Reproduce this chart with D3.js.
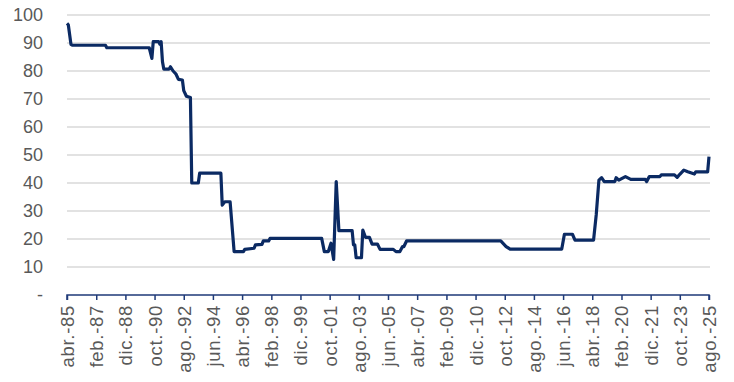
<!DOCTYPE html>
<html><head><meta charset="utf-8">
<script src="https://cdn.jsdelivr.net/npm/d3@7"></script>
<style>body{margin:0;background:#fff}svg{display:block}</style>
</head><body>
<svg id="c" width="734" height="382"></svg>
<script>
const dates = ["1985-04","1985-05","1985-07","1985-08","1987-09","1987-10","1990-06","1990-08","1990-09","1991-01","1991-02","1991-03","1991-04","1991-05","1991-09","1991-10","1991-12","1992-02","1992-04","1992-07","1992-08","1992-10","1993-01","1993-02","1993-07","1993-08","1994-12","1995-01","1995-03","1995-07","1995-10","1996-05","1996-06","1997-01","1997-02","1997-07","1997-08","1997-12","1998-01","2001-04","2001-06","2001-09","2001-11","2002-01","2002-03","2002-05","2003-03","2003-04","2003-05","2003-06","2003-10","2003-11","2004-01","2004-04","2004-06","2004-10","2004-12","2005-10","2005-12","2006-03","2006-05","2006-06","2006-08","2012-07","2012-11","2013-02","2016-05","2016-07","2017-01","2017-03","2018-05","2018-07","2018-09","2018-11","2019-01","2019-09","2019-10","2019-12","2020-05","2020-09","2021-08","2021-09","2021-11","2022-07","2022-08","2023-06","2023-08","2023-10","2024-01","2024-04","2024-09","2024-10","2025-07","2025-08"];
const values = [97,96.5,89.5,89.2,89.2,88.3,88.3,84.5,90.5,90.5,89.6,90.5,83.3,80.7,80.7,81.5,80,79,77,76.8,73,71,70.5,40,40,43.5,43.5,32.1,33.3,33.3,15.5,15.5,16.3,16.7,17.9,18.1,19.3,19.3,20.2,20.2,15.5,15.5,18.5,12.7,40.5,23,23,17.9,17.9,13.3,13.3,23.2,20.6,20.6,18.2,18.2,16.3,16.3,15.5,15.5,17.3,17.3,19.3,19.3,17.3,16.4,16.4,21.7,21.7,19.6,19.6,28.6,41,41.9,40.5,40.5,41.9,41,42.3,41.3,41.3,40.5,42.3,42.3,42.9,42.9,42,43.1,44.6,44,43.2,44,44,49.4];
const tickDates = ["1985-04","1987-02","1988-12","1990-10","1992-08","1994-06","1996-04","1998-02","1999-12","2001-10","2003-08","2005-06","2007-04","2009-02","2010-12","2012-10","2014-08","2016-06","2018-04","2020-02","2021-12","2023-10","2025-08"];
const tickLabels = ["abr.-85","feb.-87","dic.-88","oct.-90","ago.-92","jun.-94","abr.-96","feb.-98","dic.-99","oct.-01","ago.-03","jun.-05","abr.-07","feb.-09","dic.-10","oct.-12","ago.-14","jun.-16","abr.-18","feb.-20","dic.-21","oct.-23","ago.-25"];
const yTicks = [0,10,20,30,40,50,60,70,80,90,100];
const yTickLabels = ["-","10","20","30","40","50","60","70","80","90","100"];

const parse = d3.timeParse("%Y-%m");
const data = dates.map((d,i)=>({date:parse(d), v:values[i]}));
const tks = tickDates.map(parse);

const svg = d3.select("#c");
const m = {l:67, r:25, t:15, b:87};
const W = 734, H = 382;
const x = d3.scaleTime().domain([parse(tickDates[0]), parse(tickDates[tickDates.length-1])]).range([m.l, W-m.r]);
const y = d3.scaleLinear().domain([0,100]).range([H-m.b, m.t]);

// gridlines
svg.append("g").selectAll("line").data(yTicks.filter(t=>t>0)).join("line")
  .attr("x1", m.l).attr("x2", W-m.r+1)
  .attr("y1", d=>y(d)).attr("y2", d=>y(d))
  .attr("stroke", "#d9d9d9").attr("stroke-width", 1.5);

// y labels
svg.append("g").selectAll("text").data(yTicks).join("text")
  .attr("x", 43).attr("y", d=>y(d)).attr("dy","0.35em")
  .attr("text-anchor","end")
  .attr("font-family","Liberation Sans, Arial, sans-serif")
  .attr("font-size", 18).attr("fill","#595959")
  .text((d,i)=>yTickLabels[i]);

// x axis
const xAxis = d3.axisBottom(x).tickValues(tks).tickSize(5).tickFormat((d,i)=>tickLabels[i]);
const gx = svg.append("g").attr("transform", `translate(0,${y(0)})`).call(xAxis);
gx.select(".domain").attr("stroke","#1f3a78").attr("stroke-width",1.5).attr("d", `M${m.l},5V0H${W-m.r}V5`);
gx.selectAll(".tick line").attr("stroke","#1f3a78").attr("stroke-width",1.5);
gx.selectAll(".tick text")
  .attr("font-family","Liberation Sans, Arial, sans-serif")
  .attr("font-size", 18.5).attr("fill","#595959")
  .attr("letter-spacing","0.7px")
  .attr("transform","rotate(-90)")
  .attr("text-anchor","end")
  .attr("x", -10).attr("y", 0).attr("dy","0.35em");

// line
svg.append("path").datum(data)
  .attr("fill","none").attr("stroke","#0b2a63").attr("stroke-width",3.2)
  .attr("stroke-linejoin","round")
  .attr("d", d3.line().x(d=>x(d.date)).y(d=>y(d.v)));
</script>
</body></html>
